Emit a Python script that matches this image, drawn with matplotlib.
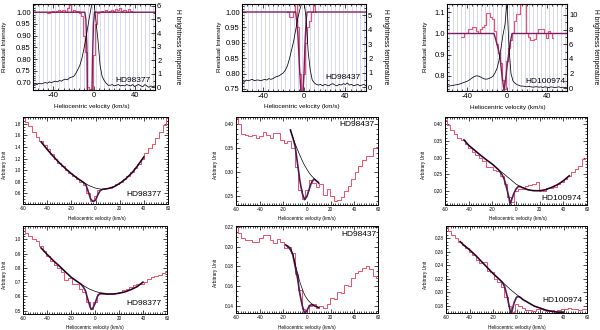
import numpy as np
import matplotlib
matplotlib.use('Agg')
import matplotlib.pyplot as plt
from matplotlib.ticker import MultipleLocator, FormatStrFormatter

plt.rcParams['font.family'] = ['Liberation Sans', 'DejaVu Sans']

RED = '#f0506a'
PURPLE = '#7a1f62'
PURPLE2 = '#4e1a55'
GRIDC = '#d2d2f0'

stars = ['HD98377', 'HD98437', 'HD100974']

# ---------------- Row 1 : residual intensity + HI emission ----------------
hi_vel = np.arange(-60, 61, 2)
hi_98377 = [0.2, 0.25, 0.2, 0.3, 0.25, 0.3, 0.35, 0.3, 0.4, 0.35, 0.4, 0.45, 0.4, 0.5, 0.45,
            0.55, 0.6, 0.55, 0.7, 0.75, 0.8, 1.0, 1.3, 1.6, 2.1, 2.8, 3.6, 4.5, 5.4, 6.2, 6.3,
            4.8, 3.4, 1.6, 0.8, 0.5, 0.3, 0.15, 0.15, 0.2, 0.1, 0.15, 0.2, 0.1, 0.15, 0.1,
            0.2, 0.15, 0.1, 0.2, 0.05, 0.15, 0.2, 0.1, 0.05, 0.2, 0.1, 0.0, 0.1, 0.05, 0.1]
hi_98437 = [0.4, 0.35, 0.5, 0.45, 0.5, 0.55, 0.45, 0.5, 0.5, 0.45, 0.5, 0.55, 0.5, 0.6, 0.55,
            0.6, 0.7, 0.75, 0.8, 0.9, 1.0, 1.2, 1.5, 2.0, 2.6, 3.2, 4.0, 4.8, 5.4, 5.9, 6.0,
            4.8, 2.5, 1.2, 0.5, 0.3, 0.2, 0.15, 0.2, 0.1, 0.2, 0.15, 0.1, 0.2, 0.25, 0.15,
            0.1, 0.2, 0.15, 0.25, 0.2, 0.3, 0.15, 0.2, 0.1, 0.15, 0.2, 0.1, 0.15, 0.2, 0.1]
hi_100974 = [0.2, 0.3, 0.35, 0.4, 0.45, 0.5, 0.55, 0.65, 0.75, 0.85, 0.95, 1.1, 1.3, 1.5, 1.65,
             1.7, 1.65, 1.5, 1.35, 1.25, 1.25, 1.35, 1.45, 1.65, 2.1, 2.7, 3.8, 5.5, 7.3, 8.7,
             11.8, 5.5, 2.0, 1.0, 0.7, 0.5, 0.4, 0.3, 0.3, 0.25, 0.2, 0.25, 0.2, 0.15, 0.2,
             0.2, 0.15, 0.2, 0.1, 0.2, 0.15, 0.1, 0.2, 0.15, 0.1, 0.15, 0.2, 0.1, 0.15, 0.1, 0.15]

res_vel_98377 = np.arange(-46, 41, 2)
res_98377 = [0.995, 0.995, 1.0, 1.005, 1.0, 1.005, 1.01, 1.005, 1.01, 1.0, 1.02, 1.03, 1.0,
             1.01, 1.005, 1.005, 0.995, 0.985, 0.90, 0.83, 0.68, 0.675, 0.675, 0.82, 0.95,
             0.995, 1.0, 1.005, 1.0, 1.01, 1.0, 1.005, 1.01, 1.005, 1.015, 1.01, 1.02, 1.005,
             1.01, 1.0, 1.015, 1.005, 1.0, 1.0]
res_vel_98437 = np.arange(-16, 13, 2)
res_98437 = [1.0, 0.985, 0.985, 1.0, 1.03, 0.95, 0.80, 0.745, 0.80, 0.90, 0.95, 0.97, 1.0, 1.03, 1.0]
res_vel_100974 = np.arange(-46, 47, 2)
res_100974 = [0.985, 0.985, 1.0, 1.0, 1.02, 1.02, 1.03, 1.03, 1.01, 1.0, 1.02, 1.03, 1.04,
              1.095, 1.095, 1.08, 1.07, 1.01, 0.95, 0.91, 0.86, 0.78, 0.74, 0.87, 0.93, 0.97,
              1.0, 1.06, 1.09, 1.09, 1.15, 1.15, 1.15, 1.0, 0.985, 0.97, 0.97, 0.975, 1.0,
              1.02, 1.02, 1.02, 1.0, 0.98, 1.01, 1.0, 0.98]

mod_vel_98377 = [-60, -9, -8, -7, -6.5, -2, -1.5, -0.5, 0.5, 60]
mod_98377 = [1.0, 1.0, 0.97, 0.85, 0.66, 0.66, 0.8, 0.95, 1.0, 1.0]
mod_vel_98437 = [-60, -8, -6, -4, -3, -1, 0, 1, 2, 3, 60]
mod_98437 = [1.0, 1.0, 0.93, 0.80, 0.74, 0.74, 0.80, 0.90, 0.97, 1.0, 1.0]
mod_vel_100974 = [-60, -13, -10, -7, -5, -3, -1, 1, 3, 5, 60]
mod_100974 = [1.0, 1.0, 0.95, 0.89, 0.80, 0.73, 0.80, 0.88, 0.95, 1.0, 1.0]

# ---------------- Rows 2-3 : spectra, continuum and model ----------------
spec_vel = np.arange(-60, 61, 3)
specA_98377 = [1.90, 1.84, 1.76, 1.66, 1.58, 1.50, 1.43, 1.36, 1.28, 1.20, 1.13, 1.07, 1.01,
               0.95, 0.90, 0.85, 0.80, 0.74, 0.60, 0.47, 0.55, 0.66, 0.68, 0.69, 0.70, 0.73,
               0.76, 0.80, 0.85, 0.90, 0.96, 1.03, 1.10, 1.20, 1.30, 1.38, 1.46, 1.55, 1.66,
               1.78, 1.90]
specA_98437 = [0.412, 0.40, 0.38, 0.378, 0.375, 0.378, 0.372, 0.375, 0.383, 0.378, 0.372,
               0.381, 0.381, 0.367, 0.36, 0.365, 0.35, 0.31, 0.262, 0.245, 0.262, 0.283,
               0.278, 0.27, 0.275, 0.253, 0.265, 0.25, 0.24, 0.242, 0.248, 0.26, 0.271, 0.285,
               0.30, 0.312, 0.326, 0.333, 0.333, 0.35, 0.352]
specA_100974 = [0.413, 0.398, 0.383, 0.37, 0.36, 0.352, 0.34, 0.328, 0.318, 0.308, 0.30,
                0.29, 0.272, 0.272, 0.262, 0.258, 0.245, 0.22, 0.18, 0.165, 0.20, 0.205,
                0.205, 0.215, 0.218, 0.22, 0.225, 0.20, 0.198, 0.208, 0.208, 0.212, 0.22,
                0.225, 0.235, 0.245, 0.255, 0.265, 0.275, 0.295, 0.30]
specB_98377 = [1.077, 1.042, 1.02, 1.0, 0.985, 0.95, 0.92, 0.88, 0.85, 0.82, 0.80, 0.77,
               0.715, 0.73, 0.69, 0.685, 0.655, 0.633, 0.56, 0.51, 0.56, 0.62, 0.62, 0.615,
               0.615, 0.62, 0.625, 0.63, 0.645, 0.655, 0.665, 0.68, 0.685, 0.69, 0.70, 0.72,
               0.735, 0.745, 0.75, 0.765, 0.773]
specB_98437 = [0.221, 0.214, 0.209, 0.207, 0.207, 0.205, 0.205, 0.209, 0.212, 0.212, 0.207,
               0.204, 0.208, 0.205, 0.199, 0.200, 0.194, 0.172, 0.156, 0.137, 0.133, 0.14,
               0.142, 0.138, 0.14, 0.138, 0.142, 0.148, 0.147, 0.154, 0.153, 0.161, 0.16,
               0.168, 0.173, 0.175, 0.178, 0.18, 0.177, 0.17, 0.168]
specB_100974 = [0.297, 0.29, 0.285, 0.28, 0.275, 0.27, 0.265, 0.26, 0.255, 0.248, 0.243,
                0.245, 0.232, 0.23, 0.22, 0.216, 0.208, 0.193, 0.18, 0.171, 0.183, 0.18,
                0.177, 0.174, 0.174, 0.172, 0.176, 0.175, 0.174, 0.172, 0.174, 0.172, 0.174,
                0.176, 0.176, 0.177, 0.175, 0.176, 0.174, 0.176, 0.175]

contA_vel_98377 = [-45, -40, -35, -30, -25, -20, -15, -10, -5, 0, 5, 10, 15, 20, 25, 30, 35, 40]
contA_98377 = [1.49, 1.36, 1.24, 1.13, 1.03, 0.94, 0.86, 0.79, 0.73, 0.69, 0.67, 0.68, 0.71,
               0.77, 0.85, 0.95, 1.08, 1.23]
modA_vel_98377 = [-45, -40, -35, -30, -25, -20, -15, -10, -8, -6, -4, -2, 0, 2, 4, 6, 10, 15,
                  20, 25, 30, 35, 40]
modA_98377 = [1.49, 1.36, 1.24, 1.13, 1.03, 0.94, 0.86, 0.79, 0.75, 0.63, 0.50, 0.46, 0.48,
              0.58, 0.65, 0.67, 0.68, 0.71, 0.77, 0.85, 0.95, 1.08, 1.23]
contA_vel_98437 = [-14, -12, -10, -8, -6, -4, -2, 0, 2, 4, 6, 8, 10]
contA_98437 = [0.388, 0.373, 0.359, 0.347, 0.335, 0.324, 0.314, 0.306, 0.298, 0.292, 0.287,
               0.282, 0.279]
modA_98437 = [0.388, 0.372, 0.354, 0.318, 0.282, 0.256, 0.243, 0.25, 0.266, 0.28, 0.286,
              0.282, 0.277]
contA_vel_100974 = [-44, -40, -35, -30, -25, -20, -15, -10, -5, 0, 5, 10, 15, 20, 25, 30, 35,
                    40, 45]
contA_100974 = [0.353, 0.337, 0.322, 0.307, 0.293, 0.28, 0.264, 0.25, 0.235, 0.22, 0.21,
                0.203, 0.2, 0.2, 0.203, 0.21, 0.218, 0.23, 0.245]
modA_vel_100974 = [-44, -40, -35, -30, -25, -20, -15, -12, -10, -8, -6, -5, -4, -2, 0, 2, 4,
                   5, 10, 15, 20, 25, 30, 35, 40, 45]
modA_100974 = [0.353, 0.337, 0.322, 0.307, 0.293, 0.28, 0.264, 0.25, 0.235, 0.21, 0.18, 0.16,
               0.17, 0.19, 0.205, 0.213, 0.212, 0.21, 0.203, 0.2, 0.2, 0.203, 0.21, 0.218,
               0.23, 0.245]

contB_vel_98377 = [-45, -40, -35, -30, -25, -20, -15, -10, -5, 0, 5, 10, 15, 20, 25, 30, 35, 40]
contB_98377 = [0.94, 0.895, 0.853, 0.815, 0.775, 0.735, 0.705, 0.677, 0.653, 0.636, 0.623,
               0.617, 0.617, 0.622, 0.632, 0.648, 0.668, 0.70]
modB_vel_98377 = [-45, -40, -35, -30, -25, -20, -15, -12, -10, -8, -6, -4, -3, -2, 0, 2, 4, 5,
                  10, 15, 20, 25, 30, 35, 40]
modB_98377 = [0.94, 0.895, 0.853, 0.815, 0.775, 0.735, 0.705, 0.688, 0.67, 0.64, 0.58, 0.525,
              0.51, 0.515, 0.55, 0.60, 0.62, 0.623, 0.617, 0.617, 0.622, 0.632, 0.648, 0.668,
              0.70]
contB_vel_98437 = [-18, -16, -14, -12, -10, -8, -6, -4, -2, 0, 2, 4, 6, 8, 10]
contB_98437 = [0.202, 0.201, 0.199, 0.193, 0.183, 0.173, 0.164, 0.157, 0.151, 0.147, 0.144,
               0.142, 0.14, 0.139, 0.138]
modB_98437 = [0.202, 0.2, 0.197, 0.192, 0.18, 0.168, 0.152, 0.14, 0.132, 0.135, 0.14, 0.141,
              0.14, 0.139, 0.138]
contB_vel_100974 = [-48, -45, -40, -35, -30, -25, -20, -15, -10, -5, 0, 5, 10, 15, 20, 25, 30,
                    35, 40]
contB_100974 = [0.275, 0.27, 0.263, 0.255, 0.246, 0.237, 0.228, 0.22, 0.212, 0.204, 0.197,
                0.19, 0.185, 0.18, 0.177, 0.174, 0.172, 0.171, 0.171]
modB_vel_100974 = [-48, -45, -40, -35, -30, -25, -20, -15, -12, -10, -8, -6, -5, -4, -2, 0, 2,
                   4, 5, 10, 15, 20, 25, 30, 35, 40]
modB_100974 = [0.275, 0.27, 0.263, 0.255, 0.246, 0.237, 0.228, 0.22, 0.215, 0.208, 0.195,
               0.178, 0.17, 0.172, 0.185, 0.193, 0.194, 0.192, 0.19, 0.185, 0.18, 0.177,
               0.174, 0.172, 0.171, 0.171]

# ---------------- figure ----------------
W, H = 600, 330
fig = plt.figure(figsize=(W / 100, H / 100), dpi=100)


def px_axes(l, t, r, b):
    return fig.add_axes([l / W, 1 - b / H, (r - l) / W, (b - t) / H])


def style(ax, fs, xmaj, xmin, ymaj, ymin, right=True):
    ax.xaxis.set_major_locator(MultipleLocator(xmaj))
    ax.xaxis.set_minor_locator(MultipleLocator(xmin))
    ax.yaxis.set_major_locator(MultipleLocator(ymaj))
    ax.yaxis.set_minor_locator(MultipleLocator(ymin))
    ax.tick_params(which='both', direction='in', top=True, right=right, labelsize=fs,
                   width=0.5, pad=1.5)
    ax.tick_params(which='major', length=3)
    ax.tick_params(which='minor', length=1.5)
    for s in ax.spines.values():
        s.set_linewidth(0.7)


# Row 1
row1 = [
    dict(box=(33, 4, 155, 90), yl=(0.669, 1.035), yr=(-0.2, 6.14), ymaj=0.05, ymin=0.01,
         rmaj=1, rmin=0.5, hi=hi_98377, rv=res_vel_98377, r=res_98377,
         mv=mod_vel_98377, m=mod_98377, fmt='%.2f', lab=(0.82, 0.116),
         xl=(92, 106), yll=5, ylr=177),
    dict(box=(242, 4, 366, 91), yl=(0.7435, 1.026), yr=(-0.26, 5.78), ymaj=0.05, ymin=0.01,
         rmaj=1, rmin=0.5, hi=hi_98437, rv=res_vel_98437, r=res_98437,
         mv=mod_vel_98437, m=mod_98437, fmt='%.2f', lab=(0.815, 0.157),
         xl=(302, 106), yll=219, ylr=385),
    dict(box=(447, 4, 567, 91), yl=(0.729, 1.139), yr=(-0.37, 11.5), ymaj=0.1, ymin=0.02,
         rmaj=2, rmin=1, hi=hi_100974, rv=res_vel_100974, r=res_100974,
         mv=mod_vel_100974, m=mod_100974, fmt='%.1f', lab=(0.817, 0.107),
         xl=(508, 107), yll=425, ylr=595),
]

for i, d in enumerate(row1):
    ax = px_axes(*d['box'])
    for gv in np.arange(-58, 60, 4):
        ax.axvline(gv, color=GRIDC, lw=0.6, zorder=0)
    ax.step(d['rv'], d['r'], where='mid', color=RED, lw=0.8, zorder=2)
    ax.plot(d['mv'], d['m'], color=PURPLE, lw=1.0, zorder=3)
    ax.set_xlim(-60, 60)
    ax.set_ylim(*d['yl'])
    style(ax, 5.5, 40, 5, d['ymaj'], d['ymin'], right=False)
    ax.yaxis.set_major_formatter(FormatStrFormatter(d['fmt']))
    ax.xaxis.set_major_formatter(FormatStrFormatter('%d'))
    ax.text(d['lab'][0], d['lab'][1], stars[i], transform=ax.transAxes, fontsize=6,
            ha='center', va='center', zorder=5)
    ax2 = ax.twinx()
    ax2.plot(hi_vel, d['hi'], color='black', lw=0.55)
    ax2.set_ylim(*d['yr'])
    ax2.set_xlim(-60, 60)
    ax2.yaxis.set_major_locator(MultipleLocator(d['rmaj']))
    ax2.yaxis.set_minor_locator(MultipleLocator(d['rmin']))
    ax2.tick_params(which='both', direction='in', labelsize=5.5, width=0.5, pad=1.5)
    ax2.tick_params(which='major', length=3)
    ax2.tick_params(which='minor', length=1.5)
    fig.text(d['xl'][0] / W, 1 - d['xl'][1] / H, 'Heliocentric velocity (km/s)',
             fontsize=4.6, ha='center', va='center')
    fig.text(d['yll'] / W, 1 - 47 / H, 'Residual Intensity', fontsize=4.6, rotation=90,
             ha='center', va='center')
    fig.text(d['ylr'] / W, 1 - 47 / H, 'H brightness temperature', fontsize=4.8,
             rotation=270, ha='center', va='center')

# Rows 2 and 3
rows23 = [
    dict(box=(23, 117, 168, 204), yl=(0.415, 1.92), ymaj=0.2, ymin=0.05, fmt='%.1f',
         s=specA_98377, cv=contA_vel_98377, c=contA_98377, mv=modA_vel_98377, m=modA_98377,
         lab=(0.832, 0.11), name=0, xl=(97, 218.5), yl_=(5, 165)),
    dict(box=(236, 117, 378, 205), yl=(0.2318, 0.415), ymaj=0.05, ymin=0.01, fmt='%.2f',
         s=specA_98437, cv=contA_vel_98437, c=contA_98437, mv=contA_vel_98437, m=modA_98437,
         lab=(0.852, 0.91), name=1, xl=(307, 218.5), yl_=(215, 165)),
    dict(box=(445, 117, 587, 205), yl=(0.157, 0.422), ymaj=0.05, ymin=0.01, fmt='%.2f',
         s=specA_100974, cv=contA_vel_100974, c=contA_100974, mv=modA_vel_100974,
         m=modA_100974, lab=(0.82, 0.076), name=2, xl=(518, 218.5), yl_=(423, 165)),
    dict(box=(23, 226, 167, 314), yl=(0.477, 1.093), ymaj=0.1, ymin=0.02, fmt='%.1f',
         s=specB_98377, cv=contB_vel_98377, c=contB_98377, mv=modB_vel_98377, m=modB_98377,
         lab=(0.838, 0.114), name=0, xl=(95, 327), yl_=(5, 275)),
    dict(box=(236, 226, 378, 313), yl=(0.1325, 0.2213), ymaj=0.02, ymin=0.005, fmt='%.2f',
         s=specB_98437, cv=contB_vel_98437, c=contB_98437, mv=contB_vel_98437, m=modB_98437,
         lab=(0.864, 0.897), name=1, xl=(307, 327), yl_=(215, 273)),
    dict(box=(446, 226, 587, 313), yl=(0.1697, 0.298), ymaj=0.02, ymin=0.005, fmt='%.2f',
         s=specB_100974, cv=contB_vel_100974, c=contB_100974, mv=modB_vel_100974,
         m=modB_100974, lab=(0.823, 0.14), name=2, xl=(517, 327), yl_=(425, 275)),
]

for d in rows23:
    ax = px_axes(*d['box'])
    ax.step(spec_vel, d['s'], where='mid', color=RED, lw=0.7, zorder=2)
    ax.plot(d['mv'], d['m'], color=PURPLE2, lw=1.2, zorder=3)
    ax.plot(d['cv'], d['c'], color='black', lw=0.5, zorder=4)
    ax.set_xlim(-60, 60)
    ax.set_ylim(*d['yl'])
    style(ax, 3.3, 20, 2, d['ymaj'], d['ymin'])
    ax.yaxis.set_major_formatter(FormatStrFormatter(d['fmt']))
    ax.xaxis.set_major_formatter(FormatStrFormatter('%d'))
    ax.text(d['lab'][0], d['lab'][1], stars[d['name']], transform=ax.transAxes,
            fontsize=6, ha='center', va='center', zorder=5)
    fig.text(d['xl'][0] / W, 1 - d['xl'][1] / H, 'Heliocentric velocity (km/s)',
             fontsize=3.4, ha='center', va='center')
    fig.text(d['yl_'][0] / W, 1 - d['yl_'][1] / H, 'Arbitrary Unit', fontsize=3.4,
             rotation=90, ha='center', va='center')

fig.savefig('out.png', dpi=100)
